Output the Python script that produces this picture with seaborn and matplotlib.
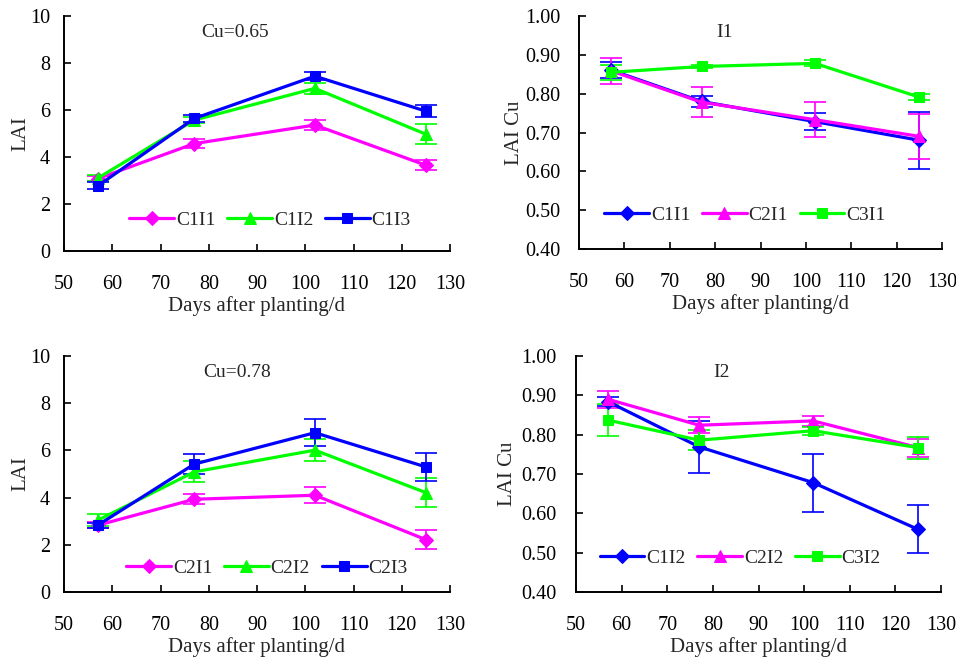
import matplotlib
matplotlib.use("Agg")
import matplotlib.pyplot as plt
import seaborn as sns
import numpy as np
import pandas as pd

sns.set_theme(style="ticks")
plt.rcParams['font.family'] = ['Liberation Serif', 'DejaVu Serif']

days = [57, 77, 102, 125]

# Panel 1: Cu=0.65
c1i1 = [3.08, 4.57, 5.36, 3.65]
c1i1_err = [0.12, 0.20, 0.20, 0.22]
c1i2 = [3.10, 5.57, 6.92, 4.97]
c1i2_err = [0.12, 0.12, 0.25, 0.43]
c1i3 = [2.77, 5.64, 7.44, 5.95]
c1i3_err = [0.15, 0.15, 0.17, 0.25]

# Panel 3: Cu=0.78
c2i1 = [2.83, 3.93, 4.10, 2.22]
c2i1_err = [0.12, 0.22, 0.33, 0.40]
c2i2 = [3.04, 5.09, 6.01, 4.21]
c2i2_err = [0.25, 0.44, 0.47, 0.62]
c2i3 = [2.83, 5.42, 6.75, 5.30]
c2i3_err = [0.10, 0.44, 0.58, 0.58]

# Panel 2: I1
u_c1i1 = [0.861, 0.780, 0.728, 0.680]
u_c1i1_err = [0.020, 0.015, 0.022, 0.073]
u_c2i1 = [0.859, 0.778, 0.733, 0.690]
u_c2i1_err = [0.034, 0.038, 0.045, 0.058]
u_c3i1 = [0.855, 0.870, 0.878, 0.791]
u_c3i1_err = [0.020, 0.005, 0.008, 0.007]

# Panel 4: I2
u_c1i2 = [0.884, 0.769, 0.678, 0.559]
u_c1i2_err = [0.012, 0.067, 0.074, 0.061]
u_c2i2 = [0.890, 0.824, 0.835, 0.767]
u_c2i2_err = [0.021, 0.020, 0.013, 0.023]
u_c3i2 = [0.837, 0.786, 0.810, 0.767]
u_c3i2_err = [0.041, 0.025, 0.010, 0.028]

MAG, GRN, BLU = "#FF00FF", "#00FF00", "#0000FF"

fig = plt.figure(figsize=(9.56, 6.6), dpi=100)
W, H = 956, 660

def make_ax(l, r, t, b):
    return fig.add_axes([l / W, 1 - b / H, (r - l) / W, (b - t) / H])

ax1 = make_ax(64, 450, 16, 251)
ax2 = make_ax(579, 942, 16, 249)
ax3 = make_ax(64, 450, 356, 592)
ax4 = make_ax(576, 941, 356, 592)

def draw(ax, series, title, tx, ylabel, ylim, yticks, yfmt, leg_xy, ypad, ylpad):
    for name, vals, errs, color, marker, ms in series:
        df = pd.DataFrame({"Days": days, "v": vals})
        ax.errorbar(days, vals, yerr=errs, fmt="none", ecolor=color,
                    elinewidth=1.2, capsize=8, capthick=1.2, zorder=2)
        sns.lineplot(data=df, x="Days", y="v", ax=ax, color=color, marker=marker,
                     markersize=ms, markeredgecolor=color, linewidth=2.3,
                     label=name, zorder=3)
    ax.set_xlim(50, 130)
    ax.set_xticks(np.arange(50, 131, 10))
    ax.set_ylim(*ylim)
    ax.set_yticks(yticks)
    ax.set_yticklabels([yfmt.format(v) for v in yticks])
    ax.tick_params(axis="both", direction="in", length=5, width=1.2,
                   labelsize=14.5, colors="black")
    ax.tick_params(axis="x", pad=17)
    ax.tick_params(axis="y", pad=ypad)
    for s in ["top", "right"]:
        ax.spines[s].set_visible(False)
    for s in ["left", "bottom"]:
        ax.spines[s].set_linewidth(1.4)
        ax.spines[s].set_color("black")
    ax.set_xlabel("Days after planting/d", fontsize=15, labelpad=2)
    ax.set_ylabel(ylabel, fontsize=15, labelpad=ylpad)
    ax.text(tx, 0.965, title, transform=ax.transAxes, ha="center", va="top",
            fontsize=14)
    ax.legend(loc="center", bbox_to_anchor=leg_xy, ncol=3, frameon=False,
              fontsize=14, handlelength=2.3, handletextpad=0.1,
              columnspacing=0.6, borderpad=0)
    ax.set_facecolor("white")

draw(ax1, [("C1I1", c1i1, c1i1_err, MAG, "D", 7),
           ("C1I2", c1i2, c1i2_err, GRN, "^", 9),
           ("C1I3", c1i3, c1i3_err, BLU, "s", 7.5)],
     "Cu=0.65", 0.443, "LAI", (0, 10), [0, 2, 4, 6, 8, 10], "{:.0f}", (0.534, 0.13), 10, 0)

draw(ax2, [("C1I1", u_c1i1, u_c1i1_err, BLU, "D", 7),
           ("C2I1", u_c2i1, u_c2i1_err, MAG, "^", 9),
           ("C3I1", u_c3i1, u_c3i1_err, GRN, "s", 7.5)],
     "I1", 0.40, "LAI Cu", (0.4, 1.0), [0.4, 0.5, 0.6, 0.7, 0.8, 0.9, 1.0], "{:.2f}", (0.457, 0.146), 13.5, 0.5)

draw(ax3, [("C2I1", c2i1, c2i1_err, MAG, "D", 7),
           ("C2I2", c2i2, c2i2_err, GRN, "^", 9),
           ("C2I3", c2i3, c2i3_err, BLU, "s", 7.5)],
     "Cu=0.78", 0.448, "LAI", (0, 10), [0, 2, 4, 6, 8, 10], "{:.0f}", (0.526, 0.10), 10, 0)

draw(ax4, [("C1I2", u_c1i2, u_c1i2_err, BLU, "D", 7),
           ("C2I2", u_c2i2, u_c2i2_err, MAG, "^", 9),
           ("C3I2", u_c3i2, u_c3i2_err, GRN, "s", 7.5)],
     "I2", 0.40, "LAI Cu", (0.4, 1.0), [0.4, 0.5, 0.6, 0.7, 0.8, 0.9, 1.0], "{:.2f}", (0.45, 0.144), 14, 3)

fig.savefig("out.png", dpi=100, facecolor="white")
